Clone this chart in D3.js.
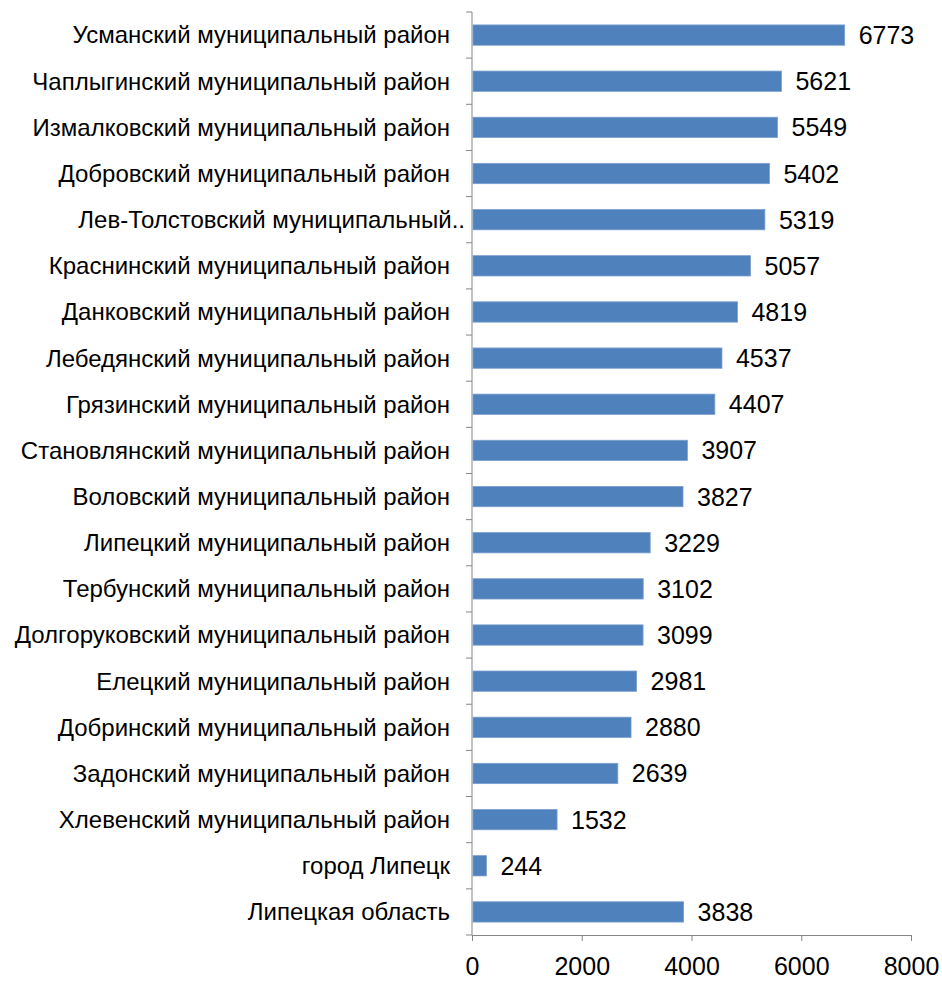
<!DOCTYPE html>
<html>
<head>
<meta charset="utf-8">
<script src="https://cdn.jsdelivr.net/npm/d3@7"></script>
<style>
  body { margin: 0; background: #fff; }
  text { font-family: "Liberation Sans", Arial, sans-serif; }
</style>
</head>
<body>
<div id="chart"></div>
<script>
// categories, top to bottom
var districts = [
  "Усманский муниципальный район",
  "Чаплыгинский муниципальный район",
  "Измалковский муниципальный район",
  "Добровский муниципальный район",
  "Лев-Толстовский муниципальный район",
  "Краснинский муниципальный район",
  "Данковский муниципальный район",
  "Лебедянский муниципальный район",
  "Грязинский муниципальный район",
  "Становлянский муниципальный район",
  "Воловский муниципальный район",
  "Липецкий муниципальный район",
  "Тербунский муниципальный район",
  "Долгоруковский муниципальный район",
  "Елецкий муниципальный район",
  "Добринский муниципальный район",
  "Задонский муниципальный район",
  "Хлевенский муниципальный район",
  "город Липецк",
  "Липецкая область"
]
var values = [6773, 5621, 5549, 5402, 5319, 5057, 4819, 4537, 4407, 3907,
              3827, 3229, 3102, 3099, 2981, 2880, 2639, 1532, 244, 3838]
var xTicks = [0, 2000, 4000, 6000, 8000]

var data = d3.map(districts, function(d, i) { return {name: d, value: values[i]} })

var margin = {top: 12, right: 31, bottom: 48, left: 472},
    width = 942 - margin.left - margin.right,
    height = 983 - margin.top - margin.bottom

var svg = d3.select("#chart")
  .append("svg")
    .attr("width", 942)
    .attr("height", 983)
  .append("g")
    .attr("transform", "translate(" + margin.left + "," + margin.top + ")")

var x = d3.scaleLinear()
  .domain([0, 8000])
  .range([0, width])

var y = d3.scaleBand()
  .domain(districts)
  .range([0, height])
  .paddingInner(0.56)
  .paddingOuter(0.28)

var axisColor = "#868686"

// X axis
var xAxis = svg.append("g")
  .attr("transform", "translate(0," + height + ")")
  .call(d3.axisBottom(x).tickValues(xTicks).tickFormat(d3.format("d"))
    .tickSize(6).tickPadding(16).tickSizeOuter(0))
xAxis.select(".domain").attr("stroke", axisColor)
xAxis.selectAll(".tick line").attr("stroke", axisColor)
xAxis.selectAll("text")
  .style("font-size", "25px")
  .attr("fill", "#000")

// Y axis line and category boundary ticks
svg.append("line")
  .attr("x1", 0).attr("x2", 0)
  .attr("y1", 0).attr("y2", height)
  .attr("stroke", axisColor)
svg.selectAll(".ytick")
  .data(d3.range(districts.length + 1))
  .enter()
  .append("line")
    .attr("class", "ytick")
    .attr("x1", -6).attr("x2", 0)
    .attr("y1", d => d * height / districts.length)
    .attr("y2", d => d * height / districts.length)
    .attr("stroke", axisColor)

// category labels
var labels = svg.selectAll(".cat")
  .data(data)
  .enter()
  .append("text")
    .attr("class", "cat")
    .attr("x", -22)
    .attr("y", d => y(d.name) + y.bandwidth() / 2)
    .attr("dy", "0.35em")
    .attr("text-anchor", "end")
    .style("font-size", "24px")
    .attr("fill", "#000")
    .text(d => d.name)

// cut long labels like the original
labels.each(function() {
  var t = d3.select(this), s = t.text()
  if (this.getComputedTextLength() <= 445) return
  while (s.length > 0 && this.getComputedTextLength() > 392) {
    s = s.slice(0, -1)
    t.text(s.trim() + "..")
  }
  t.attr("x", -7)
})

// bars
svg.selectAll("rect")
  .data(data)
  .enter()
  .append("rect")
    .attr("x", x(0) + 1)
    .attr("y", d => y(d.name))
    .attr("width", d => x(d.value) - x(0))
    .attr("height", y.bandwidth())
    .attr("fill", "#4F81BD")
    .attr("stroke", "#7A9FCF")
    .attr("stroke-width", 0.8)

// value labels
svg.selectAll(".val")
  .data(data)
  .enter()
  .append("text")
    .attr("class", "val")
    .attr("x", d => x(d.value) + 15)
    .attr("y", d => y(d.name) + y.bandwidth() / 2)
    .attr("dy", "0.36em")
    .style("font-size", "25px")
    .attr("fill", "#000")
    .text(d => d.value)
</script>
</body>
</html>
